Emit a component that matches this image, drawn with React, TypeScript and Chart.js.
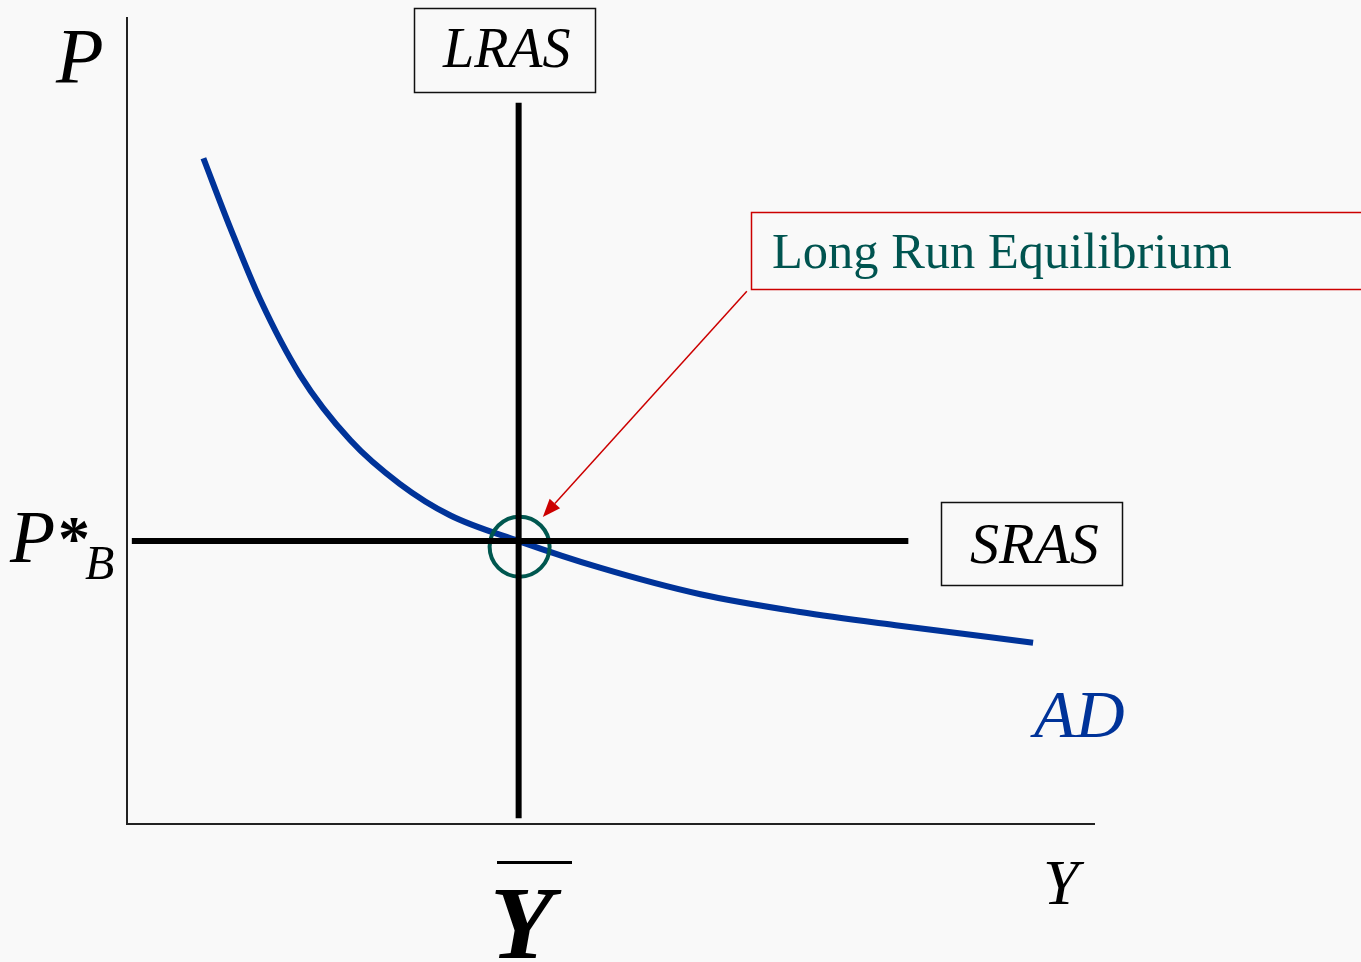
import React, { useEffect, useRef } from "react";
import { Chart, registerables } from "chart.js";

Chart.register(...registerables);

// Data (x: output Y, 0-100; y: price level P, 0-100)
const adX = [7.9, 10.7, 13.8, 17.9, 23.1, 28.2, 33.4, 40.5, 48.9, 59.3, 69.6, 79.9, 93.7];
const adY = [82.6, 73.9, 65.0, 55.7, 47.6, 42.2, 38.3, 35.1, 31.8, 28.5, 26.3, 24.6, 22.5];
const lrasX = [40.5, 40.5];
const lrasY = [89.5, 0.7];
const srasX = [0.5, 80.8];
const srasY = [35.1, 35.1];
const equilibriumX = [40.6];
const equilibriumY = [34.4];
const arrowFrom = [64.1, 66.1];
const arrowTo = [43.0, 38.1];

const toPts = (xs: number[], ys: number[]) => xs.map((x, i) => ({ x, y: ys[i] }));

const SERIF = '"Liberation Serif", "DejaVu Serif", serif';

const drawingPlugin = {
  id: "drawing",
  beforeDraw(chart: any) {
    const ctx = chart.ctx;
    ctx.save();
    ctx.fillStyle = "#f9f9f9";
    ctx.fillRect(0, 0, chart.width, chart.height);
    ctx.restore();
  },
  afterDatasetsDraw(chart: any) {
    const ctx = chart.ctx;
    const xs = chart.scales.x;
    const ys = chart.scales.y;
    ctx.save();

    const text = (t: string, x: number, y: number, size: number, color: string, style = "italic ") => {
      ctx.font = `${style}${size}px ${SERIF}`;
      ctx.fillStyle = color;
      ctx.textAlign = "left";
      ctx.textBaseline = "alphabetic";
      ctx.fillText(t, x, y);
    };
    const box = (x: number, y: number, w: number, h: number, color: string, lw: number) => {
      ctx.strokeStyle = color;
      ctx.lineWidth = lw;
      ctx.strokeRect(x, y, w, h);
    };

    // Axis labels
    text("P", 56, 82, 78, "#000");
    text("Y", 1043, 904, 64, "#000");
    // Y-bar
    text("Y", 490, 958, 104, "#000", "italic bold ");
    ctx.fillStyle = "#000";
    ctx.fillRect(497, 861, 75, 3);
    // P*_B
    text("P", 10, 562, 74, "#000");
    text("*", 58, 560, 64, "#000", "bold ");
    text("B", 85, 579, 48, "#000");

    // LRAS / SRAS boxes
    box(414.5, 8.5, 181, 84, "#111", 1.5);
    text("LRAS", 443, 67, 56, "#000");
    box(941.5, 502.5, 181, 83, "#111", 1.5);
    text("SRAS", 970, 563, 58, "#000");

    // AD label
    text("AD", 1034, 737, 68, "#003399");

    // Annotation box
    box(751.5, 212.5, 640, 77, "#cc0000", 1.5);
    ctx.font = `50px ${SERIF}`;
    const w = ctx.measureText("Long Run Equilibrium").width;
    const fs = (50 * 460) / w;
    text("Long Run Equilibrium", 772, 268, fs, "#005450", "");

    // Arrow
    const x1 = xs.getPixelForValue(arrowFrom[0]);
    const y1 = ys.getPixelForValue(arrowFrom[1]);
    const x2 = xs.getPixelForValue(arrowTo[0]);
    const y2 = ys.getPixelForValue(arrowTo[1]);
    const ang = Math.atan2(y2 - y1, x2 - x1);
    const head = 18;
    const hw = 7;
    const bx = x2 - head * Math.cos(ang);
    const by = y2 - head * Math.sin(ang);
    ctx.strokeStyle = "#cc0000";
    ctx.lineWidth = 1.5;
    ctx.beginPath();
    ctx.moveTo(x1, y1);
    ctx.lineTo(bx, by);
    ctx.stroke();
    ctx.fillStyle = "#cc0000";
    ctx.beginPath();
    ctx.moveTo(x2, y2);
    ctx.lineTo(bx + hw * Math.sin(ang), by - hw * Math.cos(ang));
    ctx.lineTo(bx - hw * Math.sin(ang), by + hw * Math.cos(ang));
    ctx.closePath();
    ctx.fill();

    ctx.restore();
  },
};

export default function App() {
  const ref = useRef<HTMLCanvasElement | null>(null);

  useEffect(() => {
    if (!ref.current) return;
    const chart = new Chart(ref.current, {
      type: "scatter",
      data: {
        datasets: [
          {
            label: "LRAS",
            data: toPts(lrasX, lrasY),
            showLine: true,
            borderColor: "#000",
            borderWidth: 6,
            pointRadius: 0,
            borderCapStyle: "butt",
            order: 1,
          },
          {
            label: "SRAS",
            data: toPts(srasX, srasY),
            showLine: true,
            borderColor: "#000",
            borderWidth: 6,
            pointRadius: 0,
            borderCapStyle: "butt",
            order: 1,
          },
          {
            label: "Equilibrium",
            data: toPts(equilibriumX, equilibriumY),
            showLine: false,
            pointRadius: 30,
            pointBorderWidth: 4,
            pointBorderColor: "#00574f",
            pointBackgroundColor: "rgba(0,0,0,0)",
            order: 2,
          },
          {
            label: "AD",
            data: toPts(adX, adY),
            showLine: true,
            borderColor: "#003399",
            borderWidth: 6,
            pointRadius: 0,
            cubicInterpolationMode: "monotone",
            borderCapStyle: "butt",
            order: 3,
          },
        ] as any,
      },
      options: {
        animation: false,
        responsive: false,
        devicePixelRatio: 1,
        layout: { autoPadding: false, padding: { left: 127, right: 267, top: 18, bottom: 138 } },
        plugins: { legend: { display: false }, tooltip: { enabled: false } },
        elements: { line: { clip: false } as any },
        scales: {
          x: {
            type: "linear",
            min: 0,
            max: 100,
            ticks: { display: false },
            grid: { display: false, drawTicks: false },
            border: { display: true, color: "#222", width: 2 },
          },
          y: {
            type: "linear",
            min: 0,
            max: 100,
            ticks: { display: false },
            grid: { display: false, drawTicks: false },
            border: { display: true, color: "#222", width: 2 },
          },
        },
      } as any,
      plugins: [drawingPlugin],
    });
    return () => chart.destroy();
  }, []);

  return (
    <div style={{ position: "fixed", left: 0, top: 0, width: 1361, height: 962 }}>
      <canvas ref={ref} width={1361} height={962} style={{ display: "block" }} />
    </div>
  );
}
